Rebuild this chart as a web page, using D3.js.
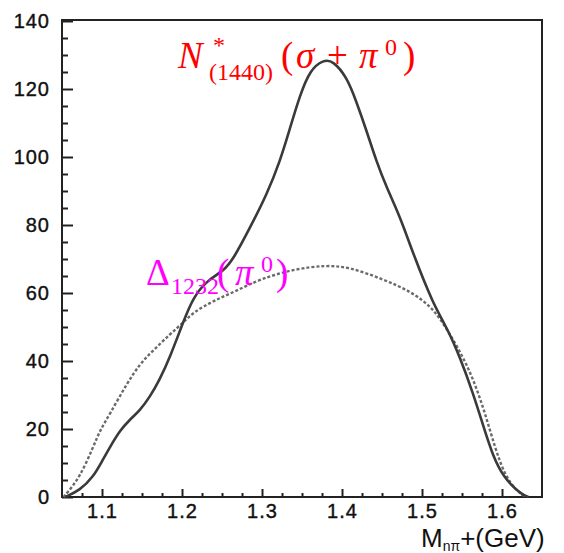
<!DOCTYPE html>
<html lang="en">
  <head>
    <meta charset="UTF-8" />
    <title>Invariant mass</title>
    <style>
      body { margin: 0; background: #fff; }
      text { font-family: 'Liberation Sans', Arial, sans-serif; }
    </style>
  </head>
  <body>
    <script src="https://d3js.org/d3.v7.min.js"></script>
    <script>
      // N*(1440) -> sigma + pi0 (solid)
      const massN = [1.054, 1.0725, 1.089, 1.1, 1.11, 1.1225, 1.135, 1.1475, 1.16, 1.172, 1.185, 1.202, 1.214, 1.231,
        1.252, 1.264, 1.285, 1.306, 1.3225, 1.335, 1.3475, 1.36, 1.3767, 1.389, 1.406, 1.418, 1.431,
        1.443, 1.456, 1.4725, 1.489, 1.514, 1.531, 1.5475, 1.564, 1.577, 1.589, 1.602, 1.618, 1.627, 1.633]
      const valN = [0, 2, 5.9, 10.5, 14.7, 19.6, 22.8, 25.5, 29.5, 34.5, 41.1, 51.8, 58.7, 63.6,
        66.5, 69.9, 79.2, 89, 98.7, 108.5, 118.2, 125.6, 128.6, 128.3, 123.5, 116.3, 107.5,
        98.7, 90.9, 82.5, 71.5, 56.7, 49.9, 41.1, 30.4, 20.6, 11.8, 5.9, 2, 0.6, 0]

      // Delta(1232) -> pi0 (dotted)
      const massD = [1.052, 1.056, 1.0725, 1.089, 1.0975, 1.11, 1.131, 1.1475, 1.164, 1.185, 1.2016, 1.214,
        1.239, 1.268, 1.2975, 1.339, 1.38, 1.41, 1.4516, 1.485, 1.514, 1.535, 1.556, 1.5725,
        1.585, 1.5975, 1.61, 1.6225, 1.63]
      const valD = [0, 1.1, 5.9, 14.7, 19.6, 24.5, 33.3, 39.2, 43.1, 47.9, 51.3, 54.3,
        57.7, 60.6, 64.1, 67, 68.2, 67.6, 64, 60.6, 55.7, 47.9, 39.2, 29.4,
        19.6, 9.9, 4, 1.1, 0]

      const xMajor = [1.1, 1.2, 1.3, 1.4, 1.5, 1.6]
      const xMinor = [1.075, 1.125, 1.15, 1.175, 1.225, 1.25, 1.275, 1.325, 1.35, 1.375,
        1.425, 1.45, 1.475, 1.525, 1.55, 1.575, 1.625]
      const yMajor = [0, 20, 40, 60, 80, 100, 120, 140]
      const yMinor = [5, 10, 15, 25, 30, 35, 45, 50, 55, 65, 70, 75, 85, 90, 95, 105, 110, 115, 125, 130, 135]

      const width = 564
      const height = 553
      const padding = { top: 20, bottom: 56, left: 62, right: 22 }

      const svg = d3.select('body').append('svg')
        .attr('width', width).attr('height', height)

      const x = d3.scaleLinear()
        .domain([1.05, 1.65])
        .range([padding.left, width - padding.right])

      const y = d3.scaleLinear()
        .domain([0, 140])
        .range([height - padding.bottom, padding.top + 1])

      // minor ticks
      svg.append('g')
        .attr('transform', `translate(${padding.left},0)`)
        .call(d3.axisLeft(y).tickValues(yMinor).tickSize(-6).tickFormat(''))
        .call(g => g.select('.domain').remove())
      svg.append('g')
        .attr('transform', `translate(0,${height - padding.bottom})`)
        .call(d3.axisBottom(x).tickValues(xMinor).tickSize(-4).tickFormat(''))
        .call(g => g.select('.domain').remove())

      // major ticks
      svg.append('g')
        .attr('transform', `translate(${padding.left},0)`)
        .call(d3.axisLeft(y).tickValues(yMajor).tickSize(-11).tickPadding(12))
        .call(g => g.select('.domain').remove())
      svg.append('g')
        .attr('transform', `translate(0,${height - padding.bottom})`)
        .call(d3.axisBottom(x).tickValues(xMajor).tickSize(-8).tickPadding(7).tickFormat(d3.format('.1f')))
        .call(g => g.select('.domain').remove())

      svg.selectAll('.tick line').attr('stroke', '#222').attr('stroke-width', 2)
      svg.selectAll('.tick text')
        .attr('fill', '#111')
        .style('font-family', "'Liberation Sans', Arial, sans-serif")
        .style('font-size', '20px')
        .style('letter-spacing', '1px')
        .attr('stroke', '#111').attr('stroke-width', 0.4)

      // frame
      svg.append('rect')
        .attr('x', padding.left).attr('y', padding.top)
        .attr('width', width - padding.left - padding.right)
        .attr('height', height - padding.top - padding.bottom)
        .attr('fill', 'none').attr('stroke', '#222').attr('stroke-width', 2)

      const lineN = d3.line()
        .x((d, i) => x(massN[i])).y(d => y(d))
        .curve(d3.curveBasis)
      const lineD = d3.line()
        .x((d, i) => x(massD[i])).y(d => y(d))
        .curve(d3.curveBasis)

      svg.append('path')
        .attr('d', lineD(valD))
        .attr('fill', 'none').attr('stroke', '#6a6a6a')
        .attr('stroke-width', 2.4).attr('stroke-dasharray', '3,2')

      svg.append('path')
        .attr('d', lineN(valN))
        .attr('fill', 'none').attr('stroke', '#3a3a3a')
        .attr('stroke-width', 2.6)

      // x axis title
      const xt = svg.append('text')
        .attr('x', 421).attr('y', 547)
        .attr('fill', '#111')
        .style('font-size', '26px')
      xt.append('tspan').text('M')
      xt.append('tspan').attr('dy', 4).style('font-size', '14px').text('nπ')
      xt.append('tspan').attr('dy', -4).text('+(GeV)')

      // red label
      const serif = "'Liberation Serif', 'Times New Roman', serif"
      const red = svg.append('text')
        .attr('y', 68).attr('fill', '#ff0000')
        .style('font-family', serif).style('font-size', '37px')
      red.append('tspan').attr('x', 178).style('font-style', 'italic').text('N')
      red.append('tspan').attr('x', 213).attr('y', 53).style('font-size', '24px').text('*')
      red.append('tspan').attr('x', 209).attr('y', 80).style('font-size', '24px').text('(1440)')
      red.append('tspan').attr('x', 281).attr('y', 68).text('(')
      red.append('tspan').attr('x', 296).style('font-style', 'italic').text('σ')
      red.append('tspan').attr('x', 327).text('+')
      red.append('tspan').attr('x', 359).style('font-style', 'italic').text('π')
      red.append('tspan').attr('x', 385).attr('y', 55).style('font-size', '24px').text('0')
      red.append('tspan').attr('x', 403).attr('y', 68).text(')')

      // magenta label
      const mag = svg.append('text')
        .attr('y', 285).attr('fill', '#ff00ff')
        .style('font-family', serif).style('font-size', '37px')
      mag.append('tspan').attr('x', 146).text('Δ')
      mag.append('tspan').attr('x', 171).attr('y', 294).style('font-size', '24px').text('1232')
      mag.append('tspan').attr('x', 217).attr('y', 285).text('(')
      mag.append('tspan').attr('x', 235).style('font-style', 'italic').text('π')
      mag.append('tspan').attr('x', 261).attr('y', 272).style('font-size', '24px').text('0')
      mag.append('tspan').attr('x', 276).attr('y', 285).text(')')
    </script>
  </body>
</html>
